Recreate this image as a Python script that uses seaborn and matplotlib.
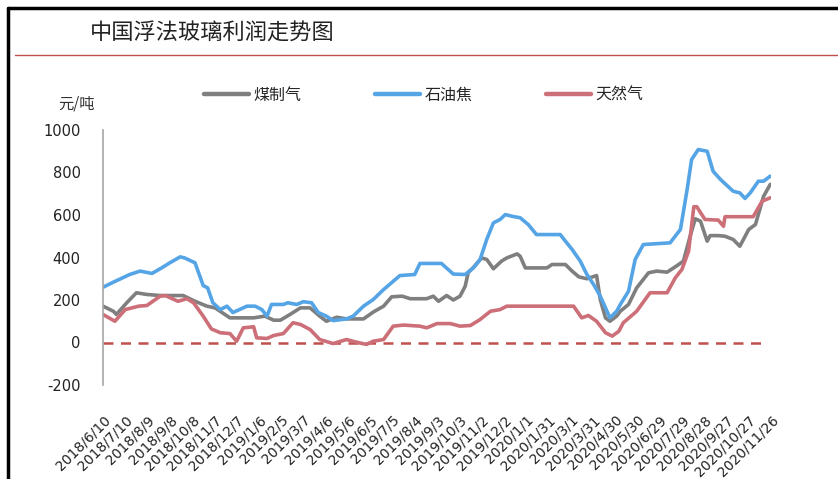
import matplotlib
matplotlib.use("Agg")
import matplotlib.pyplot as plt
import matplotlib.lines as mlines
import seaborn as sns
import pandas as pd

sns.set_theme(style="white")
CJK = ["Noto Sans CJK SC", "DejaVu Sans"]
plt.rcParams["font.family"] = CJK

title = "中国浮法玻璃利润走势图"
unit = "元/吨"
series_names = ["煤制气", "石油焦", "天然气"]

coal_dates = ["2018-06-10", "2018-06-24", "2018-06-28", "2018-07-12", "2018-07-25", "2018-08-08",
              "2018-08-26", "2018-09-26", "2018-10-12", "2018-10-28", "2018-11-08", "2018-11-28",
              "2018-12-30", "2019-01-14", "2019-01-26", "2019-02-04", "2019-02-17", "2019-03-03",
              "2019-03-16", "2019-03-29", "2019-04-07", "2019-04-21", "2019-05-04", "2019-05-27",
              "2019-06-09", "2019-06-23", "2019-07-04", "2019-07-18", "2019-07-29", "2019-08-20",
              "2019-08-29", "2019-09-05", "2019-09-16", "2019-09-25", "2019-10-04", "2019-10-11",
              "2019-10-15", "2019-10-22", "2019-11-02", "2019-11-09", "2019-11-18", "2019-11-29",
              "2019-12-06", "2019-12-20", "2019-12-24", "2019-12-31", "2020-01-29", "2020-02-05",
              "2020-02-23", "2020-03-03", "2020-03-12", "2020-03-23", "2020-04-05", "2020-04-10",
              "2020-04-17", "2020-04-23", "2020-05-02", "2020-05-07", "2020-05-18", "2020-05-29",
              "2020-06-14", "2020-06-25", "2020-07-09", "2020-07-20", "2020-07-31", "2020-08-09",
              "2020-08-16", "2020-08-23", "2020-09-01", "2020-09-05", "2020-09-16", "2020-09-25",
              "2020-10-06", "2020-10-15", "2020-10-27", "2020-11-05", "2020-11-16", "2020-11-25"]
coal_values = [171, 147, 132, 187, 234, 226, 221, 221, 194, 171, 163, 116,
               116, 124, 105, 105, 132, 163, 163, 124, 100, 119, 111, 111,
               143, 171, 215, 218, 206, 206, 218, 194, 221, 200, 218, 265,
               329, 353, 398, 391, 347, 383, 398, 417, 406, 351, 351, 367,
               367, 336, 309, 300, 315, 202, 116, 100, 124, 147, 179, 257,
               328, 336, 331, 356, 383, 500, 582, 571, 477, 503, 503, 500,
               485, 453, 532, 555, 688, 744]

coke_dates = ["2018-06-10", "2018-06-24", "2018-07-16", "2018-07-30", "2018-08-15", "2018-08-28",
              "2018-09-08", "2018-09-22", "2018-09-28", "2018-10-12", "2018-10-23", "2018-10-29",
              "2018-11-05", "2018-11-15", "2018-11-24", "2018-12-02", "2018-12-21", "2019-01-01",
              "2019-01-10", "2019-01-17", "2019-01-23", "2019-02-08", "2019-02-14", "2019-02-26",
              "2019-03-07", "2019-03-18", "2019-03-27", "2019-04-07", "2019-04-16", "2019-05-04",
              "2019-05-13", "2019-05-27", "2019-06-09", "2019-06-23", "2019-07-15", "2019-08-04",
              "2019-08-11", "2019-09-09", "2019-09-25", "2019-10-11", "2019-10-22", "2019-10-31",
              "2019-11-09", "2019-11-18", "2019-11-27", "2019-12-04", "2019-12-13", "2019-12-24",
              "2020-01-04", "2020-01-15", "2020-02-16", "2020-02-23", "2020-03-03", "2020-03-14",
              "2020-03-23", "2020-04-01", "2020-04-10", "2020-04-23", "2020-05-02", "2020-05-07",
              "2020-05-18", "2020-05-27", "2020-06-07", "2020-07-13", "2020-07-27", "2020-08-05",
              "2020-08-11", "2020-08-20", "2020-09-01", "2020-09-09", "2020-09-19", "2020-10-06",
              "2020-10-15", "2020-10-22", "2020-10-29", "2020-11-09", "2020-11-16", "2020-11-25"]
coke_values = [260, 284, 320, 336, 325, 351, 375, 403, 398, 375, 268, 257,
               187, 155, 171, 141, 171, 171, 155, 124, 179, 179, 187, 179,
               192, 187, 141, 124, 103, 111, 124, 171, 202, 249, 315, 320,
               372, 372, 322, 320, 351, 390, 485, 563, 579, 602, 594, 587,
               555, 508, 508, 477, 438, 383, 320, 273, 218, 116, 147, 179,
               241, 391, 461, 469, 532, 720, 861, 908, 900, 806, 767, 712,
               704, 678, 704, 759, 759, 783]

gas_dates = ["2018-06-10", "2018-06-26", "2018-07-10", "2018-07-28", "2018-08-08", "2018-08-26",
             "2018-09-02", "2018-09-19", "2018-10-01", "2018-10-10", "2018-10-23", "2018-11-03",
             "2018-11-15", "2018-11-28", "2018-12-07", "2018-12-16", "2018-12-30", "2019-01-03",
             "2019-01-17", "2019-01-26", "2019-02-08", "2019-02-21", "2019-03-03", "2019-03-16",
             "2019-03-29", "2019-04-16", "2019-05-04", "2019-05-18", "2019-05-31", "2019-06-09",
             "2019-06-23", "2019-07-06", "2019-07-20", "2019-08-11", "2019-08-20", "2019-09-03",
             "2019-09-21", "2019-10-04", "2019-10-18", "2019-10-31", "2019-11-14", "2019-11-27",
             "2019-12-06", "2020-03-05", "2020-03-16", "2020-03-25", "2020-04-05", "2020-04-17",
             "2020-04-26", "2020-05-05", "2020-05-11", "2020-05-29", "2020-06-16", "2020-07-09",
             "2020-07-20", "2020-07-29", "2020-08-07", "2020-08-14", "2020-08-18", "2020-08-29",
             "2020-09-16", "2020-09-23", "2020-09-25", "2020-11-02", "2020-11-14", "2020-11-25"]
gas_values = [132, 100, 155, 171, 174, 218, 221, 194, 206, 187, 124, 64,
              46, 42, 6, 69, 74, 22, 19, 33, 42, 93, 85, 61,
              14, -5, 14, 1, -9, 6, 14, 77, 82, 77, 69, 89,
              89, 77, 80, 108, 147, 155, 171, 171, 116, 127, 100, 46,
              30, 53, 93, 147, 234, 234, 304, 344, 430, 639, 639, 579,
              576, 547, 592, 592, 665, 681]

x_tick_labels = ["2018/6/10", "2018/7/10", "2018/8/9", "2018/9/8", "2018/10/8", "2018/11/7",
                 "2018/12/7", "2019/1/6", "2019/2/5", "2019/3/7", "2019/4/6", "2019/5/6",
                 "2019/6/5", "2019/7/5", "2019/8/4", "2019/9/3", "2019/10/3", "2019/11/2",
                 "2019/12/2", "2020/1/1", "2020/1/31", "2020/3/1", "2020/3/31", "2020/4/30",
                 "2020/5/30", "2020/6/29", "2020/7/29", "2020/8/28", "2020/9/27", "2020/10/27",
                 "2020/11/26"]
y_ticks = [-200, 0, 200, 400, 600, 800, 1000]

colors = {"煤制气": "#7f7f7f", "石油焦": "#55a5e6", "天然气": "#cd6f78"}

frames = []
for name, d, v in [("煤制气", coal_dates, coal_values),
                   ("石油焦", coke_dates, coke_values),
                   ("天然气", gas_dates, gas_values)]:
    frames.append(pd.DataFrame({"date": pd.to_datetime(d), "value": v, "series": name}))
df = pd.concat(frames, ignore_index=True)

W, H = 838, 479
fig = plt.figure(figsize=(W / 100, H / 100), dpi=100)
fig.patch.set_facecolor("white")
ax = fig.add_axes([103 / W, 1 - 385 / H, (771 - 103) / W, (385 - 130) / H])

sns.lineplot(data=df, x="date", y="value", hue="series", hue_order=series_names,
             palette=colors, linewidth=2.6, ax=ax, legend=False, estimator=None)

tick_pos = pd.to_datetime(x_tick_labels, format="%Y/%m/%d")
ax.axhline(0, xmin=0, xmax=(765 - 103) / (771 - 103), color="#c0504d",
           linestyle=(0, (4, 3)), linewidth=1.8, zorder=1)

ax.set_xlim(tick_pos[0], tick_pos[-1])
ax.set_ylim(-200, 1000)
ax.set_yticks(y_ticks)
ax.set_yticklabels([str(t) for t in y_ticks], fontsize=10.5, family="DejaVu Sans", color="#222222")
ax.set_xticks(tick_pos)
ax.set_xticklabels(x_tick_labels, rotation=45, ha="right", rotation_mode="anchor",
                   fontsize=10, family="DejaVu Sans", color="#222222")
ax.tick_params(axis="x", length=0, pad=20)
ax.tick_params(axis="y", length=0, pad=16)
ax.set_xlabel("")
ax.set_ylabel("")
for s in ["top", "right", "bottom"]:
    ax.spines[s].set_visible(False)
ax.spines["left"].set_color("#a6a6a6")
ax.spines["left"].set_linewidth(1.2)
ax.grid(False)
ax.set_facecolor("none")

handles = [mlines.Line2D([], [], color=colors[n], linewidth=3.2) for n in series_names]
fig.legend(handles, series_names, loc="center", bbox_to_anchor=(424 / W, 1 - 95 / H),
           ncol=3, frameon=False, handlelength=2.8, handletextpad=0.3, columnspacing=4.6,
           prop={"family": CJK, "size": 11.5})

fig.text(90 / W, 1 - 33 / H, title, ha="left", va="center", fontsize=16,
         family=CJK, color="#222222")
fig.text(77 / W, 1 - 104 / H, unit, ha="center", va="center", fontsize=11,
         family=CJK, color="#333333")

# frame lines and title rule
fig.add_artist(mlines.Line2D([8 / W, 1], [1 - 8 / H, 1 - 8 / H], color="black", linewidth=2.5,
                             transform=fig.transFigure))
fig.add_artist(mlines.Line2D([8 / W, 8 / W], [0, 1 - 8 / H], color="black", linewidth=2.5,
                             transform=fig.transFigure))
fig.add_artist(mlines.Line2D([15 / W, 1], [1 - 55 / H, 1 - 55 / H], color="#c0504d", linewidth=1.0,
                             transform=fig.transFigure))

fig.savefig("out.png", dpi=100)
